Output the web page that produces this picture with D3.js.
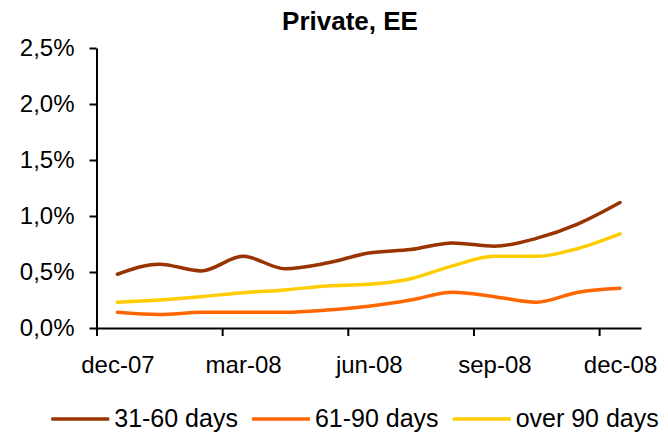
<!DOCTYPE html>
<html>
<head>
<meta charset="utf-8">
<script src="https://cdn.jsdelivr.net/npm/d3@7"></script>
<style>
  body { margin: 0; background: #fff; }
  svg { display: block; font-family: "Liberation Sans", Arial, sans-serif; }
</style>
</head>
<body>
<svg id="chart" width="668" height="433"></svg>
<script>
// monthly observations, dec-07 .. dec-08 (share of loans, %)
const months = ["dec-07", "jan-08", "feb-08", "mar-08", "apr-08", "may-08", "jun-08",
                "jul-08", "aug-08", "sep-08", "oct-08", "nov-08", "dec-08"];
const labelMonths = ["dec-07", "mar-08", "jun-08", "sep-08", "dec-08"];
const days31to60 = [0.48, 0.57, 0.51, 0.64, 0.53, 0.58, 0.67, 0.70, 0.76, 0.73, 0.80, 0.93, 1.12];
const days61to90 = [0.14, 0.12, 0.14, 0.14, 0.14, 0.16, 0.195, 0.25, 0.32, 0.28, 0.23, 0.32, 0.355];
const over90days = [0.23, 0.25, 0.28, 0.315, 0.34, 0.375, 0.39, 0.44, 0.555, 0.64, 0.64, 0.71, 0.84];
const yTicks = [0, 0.5, 1.0, 1.5, 2.0, 2.5];

const series = [
  {name: "31-60 days", values: days31to60, color: "#993300"},
  {name: "61-90 days", values: days61to90, color: "#FF6600"},
  {name: "over 90 days", values: over90days, color: "#FFCC00"}
];

const svg = d3.select("#chart");
const plot = {left: 96.5, right: 641, top: 48, bottom: 328};

// category axis: points centred in 13 monthly slots
const x = d3.scalePoint().domain(months).range([plot.left, plot.right]).padding(0.5);
// slot boundaries, used only for the tick marks
const xSlot = d3.scaleLinear().domain([-0.5, months.length - 0.5]).range([plot.left, plot.right]);
const y = d3.scaleLinear().domain([0, 2.5]).range([plot.bottom, plot.top]);

const fmt = d => d3.format(".1f")(d).replace(".", ",") + "%";

// y axis
const yAxisG = svg.append("g").attr("transform", "translate(" + plot.left + ",0)")
  .call(d3.axisLeft(y).tickValues(yTicks).tickFormat(fmt).tickSizeInner(7).tickSizeOuter(0).tickPadding(15));
yAxisG.selectAll("text").attr("font-size", 24).attr("fill", "#000").attr("font-family", "Liberation Sans, Arial, sans-serif");
yAxisG.selectAll("line,path").attr("stroke", "#000").attr("stroke-width", 2);

// x axis: tick marks at slot boundaries every 3 months
const xTickG = svg.append("g").attr("transform", "translate(0," + plot.bottom + ")")
  .call(d3.axisBottom(xSlot).tickValues([-0.5, 2.5, 5.5, 8.5, 11.5]).tickFormat("").tickSizeInner(8).tickSizeOuter(0));
xTickG.selectAll("line,path").attr("stroke", "#000").attr("stroke-width", 2);

// x labels centred on their months
const xLabG = svg.append("g").attr("transform", "translate(0," + plot.bottom + ")")
  .call(d3.axisBottom(x).tickValues(labelMonths).tickSize(0).tickPadding(28));
xLabG.select(".domain").remove();
xLabG.selectAll("text").attr("font-size", 24).attr("fill", "#000").attr("font-family", "Liberation Sans, Arial, sans-serif");

// lines
const line = d3.line()
  .x((d, i) => x(months[i]))
  .y(d => y(d))
  .curve(d3.curveMonotoneX);

svg.append("g").selectAll("path.series")
  .data(series)
  .join("path")
  .attr("class", "series")
  .attr("fill", "none")
  .attr("stroke", d => d.color)
  .attr("stroke-width", 3.5)
  .attr("stroke-linejoin", "round")
  .attr("stroke-linecap", "round")
  .attr("d", d => line(d.values));

// title
svg.append("text")
  .attr("x", 350).attr("y", 30)
  .attr("text-anchor", "middle")
  .attr("font-size", 26).attr("font-weight", "bold")
  .text("Private, EE");

// legend
const legend = svg.append("g");
let cx = 0;
series.forEach(s => {
  const g = legend.append("g").attr("transform", "translate(" + cx + ",0)");
  g.append("line").attr("x1", 0).attr("x2", 58).attr("y1", 419).attr("y2", 419)
    .attr("stroke", s.color).attr("stroke-width", 3.5);
  const t = g.append("text").attr("x", 63).attr("y", 427).attr("font-size", 25).text(s.name);
  cx += 63 + t.node().getComputedTextLength() + 14;
});
const legendW = cx - 14;
legend.attr("transform", "translate(" + (355 - legendW / 2) + ",0)");
</script>
</body>
</html>
